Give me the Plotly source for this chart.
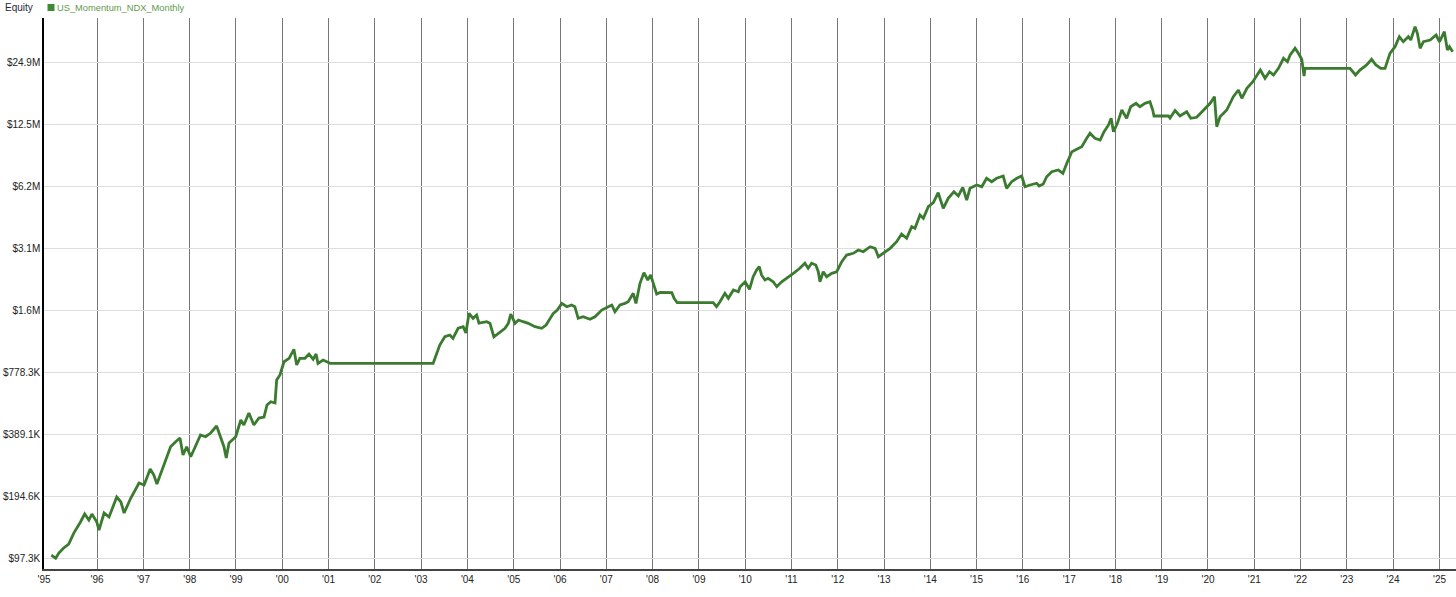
import plotly.graph_objects as go

# ---------------- data ----------------
dates = [
    "1995-01-05", "1995-02-08", "1995-03-05", "1995-04-10", "1995-05-22", "1995-07-01", "1995-08-24", "1995-09-25", "1995-10-28", "1995-11-21", "1995-12-29",
    "1996-01-16", "1996-02-25", "1996-04-04", "1996-06-04", "1996-07-07", "1996-08-01", "1996-09-23", "1996-11-27",
    "1997-01-06", "1997-02-23", "1997-03-24", "1997-04-17", "1997-06-11", "1997-08-03", "1997-09-12", "1997-10-16", "1997-11-09", "1997-12-08",
    "1998-01-09", "1998-02-18", "1998-03-27", "1998-05-06", "1998-06-15", "1998-08-01", "1998-09-02", "1998-09-28", "1998-10-16", "1998-11-07", "1998-12-30",
    "1999-02-08", "1999-03-04", "1999-04-13", "1999-05-22", "1999-07-01", "1999-08-10", "1999-09-03", "1999-10-02", "1999-11-05", "1999-11-18", "1999-12-14",
    "2000-01-15", "2000-02-24", "2000-04-02", "2000-04-24", "2000-05-19", "2000-06-28", "2000-07-30", "2000-09-01", "2000-09-24", "2000-10-09", "2000-11-18",
    "2001-01-13", "2003-04-06", "2003-04-27", "2003-05-28", "2003-07-07", "2003-08-16", "2003-09-09", "2003-10-20", "2003-11-29", "2003-12-20",
    "2004-01-14", "2004-02-15", "2004-03-14", "2004-04-01", "2004-06-01", "2004-06-27", "2004-07-28", "2004-09-15", "2004-10-24", "2004-11-19", "2004-12-08",
    "2005-01-11", "2005-02-07", "2005-03-16", "2005-04-25", "2005-06-17", "2005-08-09", "2005-09-13", "2005-10-08", "2005-11-09", "2005-12-10",
    "2006-01-15", "2006-02-24", "2006-04-02", "2006-04-28", "2006-05-24", "2006-07-03", "2006-08-25", "2006-10-04", "2006-11-26",
    "2007-01-17", "2007-02-14", "2007-03-10", "2007-04-19", "2007-05-28", "2007-06-23", "2007-08-02", "2007-08-23", "2007-09-24", "2007-10-25", "2007-11-24", "2007-12-17",
    "2008-01-07", "2008-02-03", "2008-03-01", "2008-06-01", "2008-06-19", "2008-07-14",
    "2009-04-24", "2009-05-20", "2009-06-16", "2009-07-25", "2009-08-21", "2009-09-30", "2009-11-08", "2009-11-22",
    "2010-01-01", "2010-02-04", "2010-03-05", "2010-04-01", "2010-04-22", "2010-05-10", "2010-06-06", "2010-07-01", "2010-08-10", "2010-09-07", "2010-10-16", "2010-11-25",
    "2011-01-16", "2011-03-08", "2011-04-17", "2011-05-13", "2011-06-09", "2011-07-12", "2011-08-01", "2011-08-14", "2011-09-09", "2011-10-06", "2011-11-15", "2011-12-24",
    "2012-02-02", "2012-03-12", "2012-05-03", "2012-06-12", "2012-07-21", "2012-09-13", "2012-10-22", "2012-11-17", "2012-12-26",
    "2013-02-18", "2013-04-10", "2013-05-19", "2013-06-28", "2013-08-07", "2013-09-02", "2013-10-11", "2013-11-07", "2013-12-16",
    "2014-01-25", "2014-03-04", "2014-04-13", "2014-05-22", "2014-07-06", "2014-08-10", "2014-09-14", "2014-10-15", "2014-11-10",
    "2015-01-02", "2015-02-11", "2015-03-21", "2015-04-30", "2015-06-08", "2015-07-30", "2015-08-26", "2015-10-05", "2015-11-14", "2015-12-23",
    "2016-01-18", "2016-02-27", "2016-04-19", "2016-05-09", "2016-06-10", "2016-07-07", "2016-08-16", "2016-10-07", "2016-11-12", "2016-12-13",
    "2017-01-22", "2017-03-01", "2017-04-10", "2017-05-19", "2017-06-14", "2017-07-23", "2017-09-02", "2017-10-03", "2017-11-07", "2017-11-28", "2017-12-16",
    "2018-01-16", "2018-02-20", "2018-03-30", "2018-05-01", "2018-06-12", "2018-07-13", "2018-08-22", "2018-09-30", "2018-10-22", "2018-11-01",
    "2019-02-23", "2019-03-07", "2019-04-16", "2019-05-25", "2019-07-17", "2019-08-18", "2019-10-04", "2019-11-26",
    "2020-01-18", "2020-02-21", "2020-03-10", "2020-04-05", "2020-05-28", "2020-07-19", "2020-08-28", "2020-09-24", "2020-11-03", "2020-12-20",
    "2021-02-17", "2021-03-26", "2021-04-30", "2021-06-01", "2021-07-10", "2021-08-19", "2021-09-19", "2021-10-10", "2021-11-18", "2021-12-14",
    "2022-01-10", "2022-01-28", "2022-02-05",
    "2023-01-26", "2023-02-17", "2023-03-10", "2023-04-14", "2023-06-06", "2023-07-15", "2023-08-18", "2023-09-25", "2023-10-29", "2023-12-07",
    "2024-01-16", "2024-02-19", "2024-03-21", "2024-04-30", "2024-05-19", "2024-06-22", "2024-07-10", "2024-08-01", "2024-08-27", "2024-10-19", "2024-12-05",
    "2025-01-01", "2025-02-08", "2025-03-04", "2025-03-20", "2025-04-15",
]

equity = [
    100600, 97000, 102900, 108500, 113800, 128600, 145900, 159100, 148700, 159100, 145900,
    133000, 160900, 153800, 192400, 181900, 160900, 190300, 225000,
    220000, 263100, 246000, 222500, 275100, 337600, 357000, 372000, 307700, 337600,
    301900, 344100, 384800, 377500, 393500, 425500, 377500, 337600, 297600, 351900, 377500,
    455100, 430300, 492100, 430300, 465400, 470500, 538300, 558400, 550300, 711600, 752700,
    873200, 907100, 1003000, 841600, 907100, 907100, 951700, 897000, 951700, 857600, 890000,
    857600, 857600, 923500, 1052000, 1154000, 1177000, 1134000, 1269000, 1292000, 1203000,
    1500000, 1418000, 1472000, 1345000, 1366000, 1341000, 1154000, 1221000, 1269000, 1341000, 1488000,
    1341000, 1392000, 1366000, 1341000, 1292000, 1269000, 1316000, 1392000, 1500000, 1556000,
    1677000, 1615000, 1646000, 1615000, 1418000, 1444000, 1403000, 1444000, 1556000,
    1615000, 1646000, 1527000, 1646000, 1677000, 1708000, 1876000, 1677000, 2098000, 2362000, 2177000, 2303000,
    2098000, 1861000, 1893000, 1890000, 1774000, 1689000,
    1689000, 1615000, 1708000, 1876000, 1774000, 1947000, 1910000, 2020000,
    2135000, 1962000, 2259000, 2434000, 2525000, 2303000, 2177000, 2218000, 2135000, 2020000, 2135000, 2218000,
    2346000, 2481000, 2624000, 2481000, 2624000, 2574000, 2388000, 2135000, 2388000, 2259000, 2346000, 2388000,
    2671000, 2878000, 2934000, 3045000, 2987000, 3159000, 3102000, 2825000, 2934000,
    3102000, 3341000, 3640000, 3469000, 3951000, 3881000, 4502000, 4339000, 4940000,
    5167000, 5778000, 4852000, 5428000, 5842000, 5568000, 6136000, 5323000, 6068000,
    6296000, 6178000, 6787000, 6533000, 6787000, 6963000, 6068000, 6533000, 6787000, 6963000,
    6178000, 6296000, 6420000, 6226000, 6367000, 6907000, 7306000, 7446000, 7176000, 8026000,
    9135000, 9388000, 9660000, 10610000, 11230000, 10610000, 10410000, 11430000, 12320000, 13270000, 11430000,
    12550000, 14560000, 13270000, 15110000, 15690000, 15110000, 15690000, 15980000, 14560000, 13620000,
    13620000, 13320000, 14480000, 13620000, 14290000, 13270000, 13420000, 14560000,
    15690000, 16900000, 12080000, 13510000, 14560000, 16900000, 18210000, 16600000, 18560000, 19980000,
    22770000, 20760000, 22350000, 21540000, 23210000, 25960000, 24990000, 26940000, 29030000, 27450000,
    25670000, 21290000, 23210000,
    23210000, 22350000, 21540000, 22770000, 24090000, 25670000, 24090000, 23210000, 23210000, 27450000,
    29550000, 33050000, 31240000, 33050000, 31850000, 36950000, 34330000, 29030000, 31240000, 31850000, 33670000,
    31240000, 34950000, 28480000, 29550000, 27940000,
]

assert len(dates) == len(equity)

series_name = "US_Momentum_NDX_Monthly"
chart_title = "Equity"

# y-axis ticks (log scale, doubling steps)
y_tick_values = [97285, 194570, 389140, 778280, 1556560, 3113120, 6226240, 12452480, 24904960]
y_tick_labels = ["$97.3K", "$194.6K", "$389.1K", "$778.3K", "$1.6M", "$3.1M", "$6.2M", "$12.5M", "$24.9M"]

# x-axis ticks (year boundaries)
x_range = ["1994-11-08", "2025-05-11"]
x_tick_values = [x_range[0]] + [f"{y}-01-01" for y in range(1996, 2026)]
x_tick_labels = ["'95"] + [f"'{y % 100:02d}" for y in range(1996, 2026)]

# ---------------- figure ----------------
W, H = 1456, 597
ML, MR, MT, MB = 44, 0, 18, 28
PW, PH = W - ML - MR, H - MT - MB

line_color = "#3b7b30"
font_family = "Liberation Sans, Arial, sans-serif"

fig = go.Figure()
fig.add_trace(go.Scatter(
    x=dates, y=equity, mode="lines", name=series_name,
    line=dict(color=line_color, width=2.8), showlegend=False,
    hoverinfo="skip",
))


def px_x(p):
    return (p - ML) / PW


def px_y(p):
    return 1 - (p - MT) / PH


fig.update_layout(
    width=W, height=H,
    margin=dict(l=ML, r=MR, t=MT, b=MB, pad=0),
    paper_bgcolor="white", plot_bgcolor="white",
    font=dict(family=font_family, size=10, color="#222222"),
    hovermode=False,
    xaxis=dict(
        type="date", range=x_range,
        tickmode="array", tickvals=x_tick_values, ticktext=x_tick_labels,
        showgrid=True, gridcolor="#767676", gridwidth=1.4,
        showline=True, linecolor="#444444", linewidth=2,
        ticks="", tickfont=dict(size=10, color="#222222"),
        zeroline=False,
    ),
    yaxis=dict(
        type="log", range=[4.9347, 7.6100],
        tickmode="array", tickvals=y_tick_values, ticktext=y_tick_labels,
        showgrid=True, gridcolor="#dddddd", gridwidth=1,
        showline=True, linecolor="#000000", linewidth=1.5,
        ticks="", tickfont=dict(size=10, color="#222222"),
        zeroline=False,
    ),
    shapes=[
        dict(type="rect", xref="paper", yref="paper",
             x0=px_x(47.5), x1=px_x(54.5), y0=px_y(11), y1=px_y(4),
             fillcolor="#3d8a32", line=dict(width=0)),
    ],
    annotations=[
        dict(text=chart_title, xref="paper", yref="paper",
             x=px_x(3), y=px_y(8), xanchor="left", yanchor="middle",
             showarrow=False, font=dict(size=10, color="#1f2a3a", family=font_family)),
        dict(text=series_name, xref="paper", yref="paper",
             x=px_x(55), y=px_y(8), xanchor="left", yanchor="middle",
             showarrow=False, font=dict(size=9.3, color="#5f9a4c", family=font_family)),
    ],
)

fig.write_html("out.html", config={"displayModeBar": False},
               post_script="document.body.style.margin='0px';")
